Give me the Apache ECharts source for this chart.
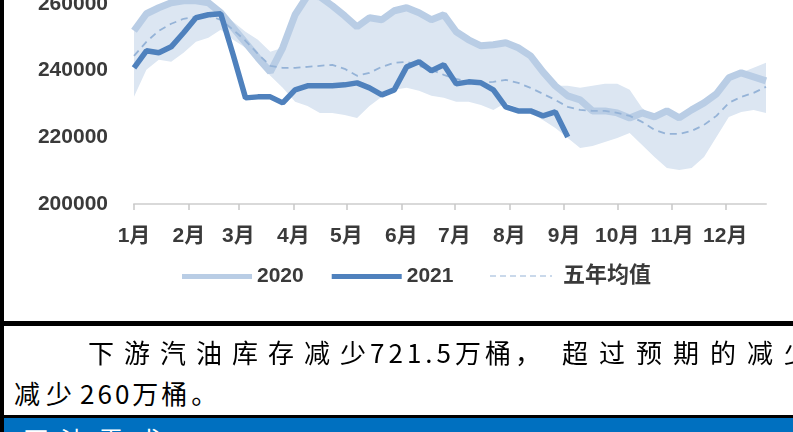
<!DOCTYPE html>
<html>
<head>
<meta charset="utf-8">
<script src="https://cdn.jsdelivr.net/npm/echarts/dist/echarts.min.js"></script>
<style>
  * { margin: 0; padding: 0; }
  body { background: #fff; }
  #page { position: relative; width: 793px; height: 432px; overflow: hidden; background: #fff; }
  #main { position: absolute; left: 4px; top: -80px; width: 789px; height: 402px; }
  .bar { position: absolute; background: #000; }
  .txt { position: absolute; white-space: nowrap; font-family: "Noto Sans CJK SC", sans-serif; font-size: 26px; line-height: 36px; color: #000; }
  #blue { position: absolute; left: 4px; top: 418px; width: 789px; height: 14px; background: #0070c0; overflow: hidden; }
  #blue span { position: absolute; left: 18px; top: 9px; line-height: 26px; color: #fff; font-family: "Noto Sans CJK SC"; font-size: 26px; letter-spacing: 12px; }
</style>
</head>
<body>
<div id="page">
  <!--图表容器，上半部分被裁掉-->
  <div id="main"></div>
  <div class="bar" style="left:0;top:0;width:4px;height:432px"></div>
  <div class="bar" style="left:0;top:321px;width:793px;height:5px"></div>
  <div class="txt" style="left:88px;top:334px">
    <span style="letter-spacing:10px">下游汽油库存减</span><span style="letter-spacing:4px">少721.5万桶</span><span style="letter-spacing:21px">，</span><span style="letter-spacing:11px">超过预期的减少</span>
  </div>
  <div class="txt" style="left:14px;top:375px">
    <span style="letter-spacing:6px">减</span><span style="letter-spacing:8px">少</span><span style="letter-spacing:3px">260万</span><span style="letter-spacing:4px">桶。</span>
  </div>
  <div class="bar" style="left:0;top:415px;width:793px;height:3px"></div>
  <div id="blue"><span>原油需求</span></div>
</div>
<script>
// 月份刻度（按一年中的天数）
const monthLabels = ['1月','2月','3月','4月','5月','6月','7月','8月','9月','10月','11月','12月'];
const monthStarts = [0, 31, 59, 90, 120, 151, 181, 212, 243, 273, 304, 334];

// 周度库存数据
const data2020 = [251900, 257000, 258800, 260300, 260900, 260900, 260300, 257300, 252800, 248300,
  243800, 239600, 246800, 256700, 262400, 262100, 259400, 256400, 253100, 255800,
  255200, 257900, 258800, 257300, 255200, 256700, 251600, 249200, 247400, 247700,
  248300, 246800, 244400, 239600, 235400, 232400, 231200, 227900, 227900, 227300,
  225800, 227300, 226100, 227900, 225800, 228200, 230300, 233000, 237800, 239300,
  238100, 236900];
const data2021 = [240800, 245900, 245300, 247100, 251300, 255800, 256700, 257000, 244700, 231800,
  232100, 232100, 230300, 234200, 235400, 235400, 235400, 235700, 236300, 234800,
  232700, 234200, 241100, 242600, 239900, 241700, 236000, 236600, 236300, 234200,
  229100, 227900, 227900, 226400, 227600, 220100];
const avg5y = [244400, 248600, 251900, 254000, 255500, 256100, 256400, 255200, 252200, 248900,
  245000, 241400, 240800, 240800, 241100, 241400, 241700, 240500, 238400, 239300,
  241100, 242300, 242600, 241400, 240200, 238700, 237500, 236600, 236300, 236600,
  237200, 236300, 234800, 233000, 231200, 229100, 228200, 227900, 227900, 227300,
  226400, 224600, 222200, 221000, 221000, 221900, 223700, 226400, 230300, 232100,
  233300, 235100];
const rangeLow = [232100, 240200, 243200, 242600, 245300, 248600, 249800, 252200, 249200, 246800,
  242600, 238400, 234800, 230600, 229400, 227300, 227300, 226700, 225800, 229400,
  232100, 234200, 234800, 233900, 232400, 231800, 230600, 230600, 229700, 228200,
  230300, 228800, 227300, 225200, 222800, 219800, 216800, 217400, 218600, 219800,
  221300, 217700, 214100, 210800, 210200, 210800, 214100, 220100, 226100, 227600,
  228200, 227300];
const rangeHigh = [251900, 257000, 258800, 260300, 260900, 260900, 260300, 257600, 254600, 251600,
  249200, 245600, 246800, 256700, 262400, 262100, 259400, 256400, 253100, 255800,
  255200, 257900, 258800, 257300, 255200, 256700, 251600, 249200, 247400, 247700,
  248300, 246800, 244400, 239600, 235400, 235400, 234800, 235400, 236000, 236000,
  234200, 228800, 226100, 227900, 225800, 228200, 230300, 233000, 237800, 239300,
  240800, 242300];
const weeks = data2020.map(function (v, i) { return '第' + (i + 1) + '周'; });

var chart = echarts.init(document.getElementById('main'));
var labelFont = { fontFamily: 'Liberation Sans, Noto Sans CJK SC', fontWeight: 'bold', fontSize: 21, color: '#3a3a3a' };
var dashIcon = 'path://M0,0h6v1h-6z M10,0h6v1h-6z M20,0h6v1h-6z M30,0h6v1h-6z M40,0h6v1h-6z M50,0h6v1h-6z M60,0h2v1h-2z';

chart.setOption({
  animation: false,
  grid: { left: 130, right: 27, top: 17, bottom: 118, outerBoundsMode: 'none', containLabel: false },
  legend: [
    {
      data: ['2020', '2021'],
      icon: 'rect',
      left: 173,
      top: 341,
      itemWidth: 70,
      itemHeight: 5,
      itemGap: 28,
      textStyle: labelFont
    },
    {
      data: [{ name: '五年均值', icon: dashIcon }],
      left: 481,
      top: 340,
      itemWidth: 62,
      itemHeight: 2,
      textStyle: Object.assign({}, labelFont, { fontSize: 22, padding: [0, 0, 0, 6] })
    }
  ],
  xAxis: [
    {
      type: 'category',
      data: weeks,
      boundaryGap: false,
      position: 'bottom',
      show: false
    },
    {
      type: 'value',
      position: 'bottom',
      min: 0,
      max: 357,
      splitLine: { show: false },
      axisLine: { onZero: false, lineStyle: { color: '#d9d9d9', width: 2 } },
      axisTick: { customValues: monthStarts, length: 6, lineStyle: { color: '#c8c8c8', width: 1.5 } },
      axisLabel: Object.assign({
        customValues: monthStarts,
        margin: 22,
        formatter: function (v) { return monthLabels[monthStarts.indexOf(v)]; }
      }, labelFont)
    }
  ],
  yAxis: {
    type: 'value',
    min: 200000,
    max: 280000,
    interval: 20000,
    splitLine: { show: false },
    axisLine: { show: false },
    axisTick: { show: false },
    axisLabel: Object.assign({ margin: 26, formatter: function (v) { return String(v); } }, labelFont)
  },
  series: [
    {
      name: 'rangeBase', type: 'line', stack: 'band', symbol: 'none', silent: true,
      data: rangeLow, lineStyle: { opacity: 0 }
    },
    {
      name: 'range', type: 'line', stack: 'band', symbol: 'none', silent: true,
      data: rangeHigh.map(function (v, i) { return v - rangeLow[i]; }),
      lineStyle: { opacity: 0 },
      areaStyle: { color: '#dce6f2', opacity: 1 }
    },
    {
      name: '2020', type: 'line', symbol: 'none', data: data2020,
      lineStyle: { color: '#b9cde5', width: 7 }, itemStyle: { color: '#b9cde5' }
    },
    {
      name: '五年均值', type: 'line', symbol: 'none', data: avg5y,
      lineStyle: { color: '#95b3d7', width: 1.8, type: [7, 5] }, itemStyle: { color: '#95b3d7' }
    },
    {
      name: '2021', type: 'line', symbol: 'none', data: data2021,
      lineStyle: { color: '#4f81bd', width: 5.5 }, itemStyle: { color: '#4f81bd' }
    }
  ]
});
</script>
</body>
</html>
